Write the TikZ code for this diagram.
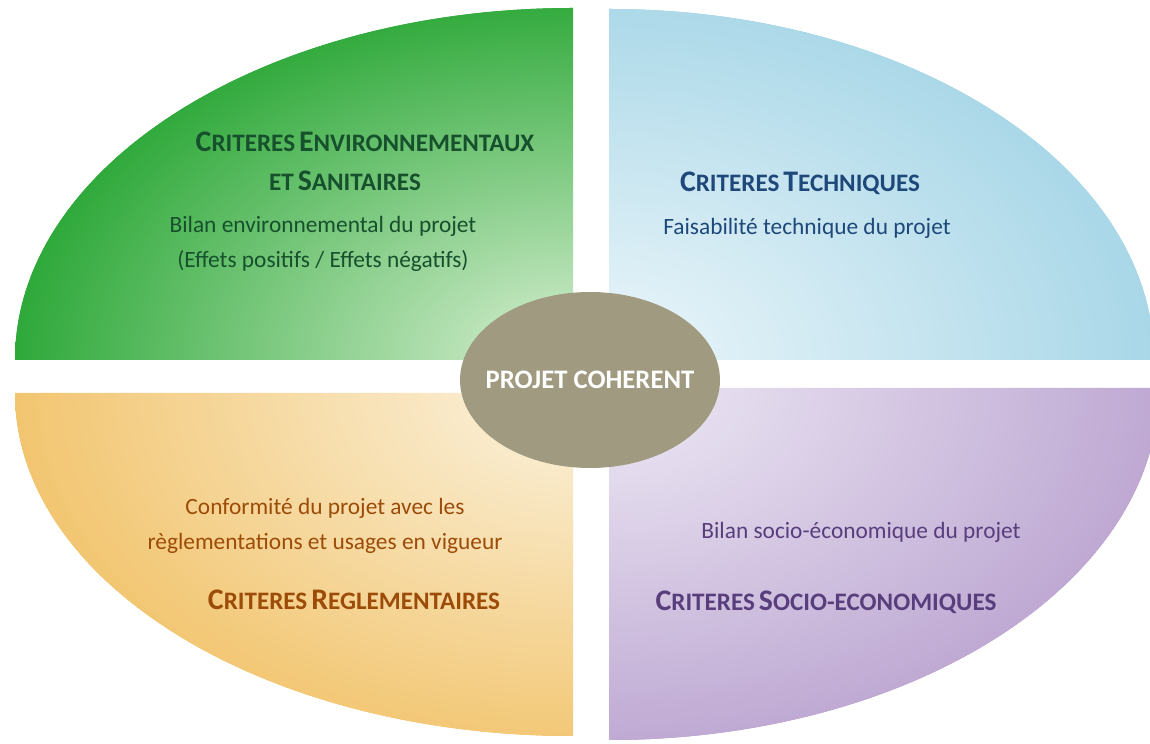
\documentclass[tikz,border=0pt]{standalone}
\usepackage{fontspec}
\setmainfont{Carlito}
\usepackage{tikz}
\usetikzlibrary{shapes.geometric}
\usepackage{xcolor}
\definecolor{envdark}{RGB}{40,166,52}
\definecolor{envlight}{RGB}{218,240,212}
\definecolor{envtext}{RGB}{22,80,44}
\definecolor{techdark}{RGB}{142,203,224}
\definecolor{techlight}{RGB}{236,246,250}
\definecolor{techtext}{RGB}{31,72,122}
\definecolor{regdark}{RGB}{238,176,60}
\definecolor{reglight}{RGB}{251,243,224}
\definecolor{regtext}{RGB}{156,76,8}
\definecolor{socdark}{RGB}{164,132,192}
\definecolor{soclight}{RGB}{238,234,245}
\definecolor{soctext}{RGB}{88,62,124}
\definecolor{coregrey}{RGB}{160,154,128}
\newcommand{\scap}[2]{{\fontsize{17}{20}\selectfont #1}{\fontsize{14.3}{20}\selectfont #2}}

\begin{document}
\begin{tikzpicture}[x=0.02cm, y=0.02cm,
  ttl/.style={font=\bfseries, align=center, inner sep=0pt},
  txt/.style={font=\fontsize{13.3}{20}\selectfont, align=center, inner sep=0pt}]
  \useasboundingbox (0,0) rectangle (1150,744);
  \clip (0,0) rectangle (1150,744);

  % Top-left quadrant
  \begin{scope}
    \clip (573,384) -- (15,384) arc[start angle=180, end angle=90, x radius=558, y radius=352] -- cycle;
    \fill[envdark] (0,384) rectangle (573,744);
    \shade[inner color=envlight, outer color=envdark] (573,384) ellipse [x radius=580, y radius=380];
  \end{scope}

  % Top-right quadrant
  \begin{scope}
    \clip (609,384) -- (609,735) arc[start angle=90, end angle=0, x radius=545, y radius=351] -- cycle;
    \fill[techdark] (609,384) rectangle (1150,744);
    \shade[inner color=techlight, outer color=techdark] (609,384) ellipse [x radius=760, y radius=520];
  \end{scope}

  % Bottom-left quadrant
  \begin{scope}
    \clip (573,351) -- (15,351) arc[start angle=180, end angle=270, x radius=558, y radius=343] -- cycle;
    \fill[regdark] (0,0) rectangle (573,351);
    \shade[inner color=reglight, outer color=regdark] (573,351) ellipse [x radius=820, y radius=540];
  \end{scope}

  % Bottom-right quadrant
  \begin{scope}
    \clip (609,356) -- (609,4) arc[start angle=270, end angle=360, x radius=550, y radius=352] -- cycle;
    \fill[socdark] (609,0) rectangle (1150,356);
    \shade[inner color=soclight, outer color=socdark] (609,356) ellipse [x radius=860, y radius=560];
  \end{scope}

  % Centre
  \node[ellipse, fill=coregrey, inner sep=0pt, minimum width=5.2cm, minimum height=3.52cm, text=white,
    font=\bfseries\fontsize{15.2}{18}\selectfont] (coherent) at (590,364) {\makebox[0pt]{PROJET COHERENT}};

  % Top-left texts
  \node[ttl, text=envtext] (envtitle) at (365,602) {\scap{C}{RITERES} \scap{E}{NVIRONNEMENTAUX}};
  \node[ttl, text=envtext] (envtitleb) at (345,563) {\scap{}{ET} \scap{S}{ANITAIRES}};
  \node[txt, text=envtext] (envtext) at (323,500) {Bilan environnemental du projet\\(Effets positifs / Effets négatifs)};

  % Top-right texts
  \node[ttl, text=techtext] (techtitle) at (800,561) {\scap{C}{RITERES} \scap{T}{ECHNIQUES}};
  \node[txt, text=techtext] (techtext) at (807,516) {Faisabilité technique du projet};

  % Bottom-left texts
  \node[txt, text=regtext] (regtext) at (325,218) {Conformité du projet avec les\\règlementations et usages en vigueur};
  \node[ttl, text=regtext] (regtitle) at (354,144) {\scap{C}{RITERES} \scap{R}{EGLEMENTAIRES}};

  % Bottom-right texts
  \node[txt, text=soctext] (soctext) at (861,212) {Bilan socio-économique du projet};
  \node[ttl, text=soctext] (soctitle) at (826,142) {\scap{C}{RITERES} \scap{S}{OCIO-ECONOMIQUES}};
\end{tikzpicture}
\end{document}
